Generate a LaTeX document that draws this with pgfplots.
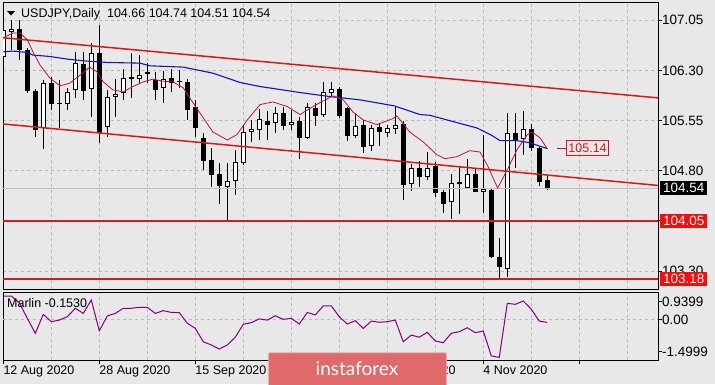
\documentclass[border=0pt]{standalone}
\usepackage{pgfplots}
\pgfplotsset{compat=1.18}
\usepackage{pgfplotstable}
\usepackage{fontspec}
\setmainfont{Liberation Sans}
\newfontfamily\logofont{Lato}

\definecolor{bg}{RGB}{232,232,232}
\definecolor{gridc}{RGB}{185,185,185}
\definecolor{chred}{RGB}{215,25,25}
\definecolor{maBlue}{RGB}{20,20,190}
\definecolor{maRed}{RGB}{185,20,60}
\definecolor{marlin}{RGB}{128,0,128}
\definecolor{logo}{RGB}{224,106,106}
\definecolor{logoedge}{RGB}{238,190,190}
\definecolor{boxred}{RGB}{250,10,10}
\definecolor{curline}{RGB}{190,190,190}

\pgfplotstableread{
i O H L C
0 106.50 107.03 106.46 106.91
1 106.88 107.06 106.61 106.92
2 106.92 107.06 106.46 106.61
3 106.61 106.64 105.97 106.00
4 106.00 106.02 105.31 105.41
5 105.44 106.16 105.13 106.11
6 106.11 106.20 105.71 105.80
7 105.80 106.16 105.44 105.81
8 105.80 106.04 105.71 105.98
9 106.01 106.58 105.89 106.41
10 106.40 106.58 105.86 106.00
11 106.03 106.71 105.61 106.56
12 106.56 106.98 105.22 105.37
13 105.46 106.01 105.31 105.91
14 105.91 106.17 105.61 105.95
15 105.97 106.32 105.86 106.19
16 106.19 106.56 105.89 106.18
17 106.17 106.53 106.11 106.23
18 106.25 106.41 106.11 106.28
19 106.16 106.28 105.86 106.01
20 106.04 106.29 105.82 106.17
21 106.19 106.32 105.98 106.11
22 106.14 106.31 106.04 106.13
23 106.13 106.17 105.56 105.71
24 105.76 105.86 105.31 105.44
25 105.29 105.37 104.81 104.95
26 104.96 105.14 104.56 104.74
27 104.75 104.92 104.30 104.57
28 104.56 104.92 104.03 104.65
29 104.65 105.11 104.44 104.93
30 104.92 105.49 104.89 105.38
31 105.38 105.56 105.23 105.43
32 105.41 105.73 105.26 105.58
33 105.55 105.70 105.26 105.49
34 105.52 105.76 105.37 105.67
35 105.67 105.76 105.41 105.47
36 105.49 105.71 105.41 105.53
37 105.55 105.61 104.98 105.29
38 105.29 105.82 105.28 105.76
39 105.74 105.82 105.47 105.62
40 105.64 106.13 105.61 105.98
41 105.97 106.13 105.91 106.03
42 106.03 106.06 105.59 105.62
43 105.74 105.76 105.25 105.32
44 105.32 105.67 105.29 105.47
45 105.49 105.56 105.07 105.16
46 105.17 105.49 105.10 105.44
47 105.46 105.52 105.17 105.38
48 105.37 105.49 105.31 105.44
49 105.43 105.76 105.35 105.49
50 105.50 105.55 104.36 104.59
51 104.60 104.90 104.50 104.84
52 104.84 104.95 104.56 104.71
53 104.71 105.08 104.66 104.84
54 104.87 104.93 104.41 104.47
55 104.48 104.51 104.17 104.30
56 104.33 104.75 104.08 104.62
57 104.63 104.86 104.15 104.60
58 104.54 104.98 104.53 104.75
59 104.75 104.84 104.48 104.48
60 104.48 105.34 104.17 104.53
61 104.51 104.54 103.50 103.51
62 103.51 103.79 103.18 103.36
63 103.33 105.67 103.21 105.37
64 105.37 105.67 104.84 105.26
65 105.28 105.70 105.04 105.43
66 105.43 105.50 105.10 105.14
67 105.14 105.16 104.57 104.63
68 104.66 104.74 104.51 104.54
}\candles

\pgfplotstableread{
i p
0 106.79
1.2 106.86
2.1 106.86
3.0 106.76
3.7 106.58
4.6 106.38
5.8 106.19
7.1 106.07
8.3 106.11
9.6 106.23
10.8 106.35
11.7 106.28
12.5 106.13
13.7 106.01
15.0 105.98
16.2 106.06
17.5 106.13
18.7 106.17
20.0 106.14
21.2 106.13
22.5 106.04
23.7 105.82
25.0 105.59
26.2 105.38
28.0 105.26
29.2 105.34
30.5 105.56
32.1 105.79
33.7 105.83
35.5 105.76
37.1 105.64
38.0 105.71
39.6 105.82
41.2 105.92
42.5 105.86
43.7 105.68
45.0 105.56
46.7 105.49
48.7 105.58
49.2 105.62
50.8 105.38
52.5 105.23
54.2 105.04
55.2 104.98
56.7 105.01
58.3 105.10
59.6 105.08
60.6 104.86
61.8 104.54
63.1 104.84
64.2 105.11
65.5 105.34
66.1 105.38
67.1 105.29
68.0 105.13
}\maRedT

\pgfplotstableread{
i p
0 106.58
1.2 106.59
3.0 106.57
3.7 106.53
5.8 106.51
8.0 106.47
10.5 106.44
13.0 106.42
17.1 106.41
18.3 106.37
22.5 106.35
26.2 106.26
29.6 106.12
32.1 106.06
37.1 105.97
40.8 105.91
44.6 105.86
48.9 105.77
52.1 105.64
53.3 105.63
56.7 105.52
59.2 105.44
60.9 105.34
62.1 105.25
64.2 105.25
65.8 105.22
68.0 105.13
}\maBlueT

\pgfplotstableread{
i v
0 1.19
1 1.19
2 0.85
3 0.06
4 -0.70
5 0.26
6 -0.11
7 -0.03
8 0.14
9 0.57
10 0.31
11 0.99
12 -0.57
13 0.18
14 0.31
15 0.57
16 0.57
17 0.62
18 0.62
19 0.31
20 0.45
21 0.36
22 0.35
23 -0.19
24 -0.45
25 -1.13
26 -1.29
27 -1.50
28 -1.29
29 -0.90
30 -0.24
31 -0.16
32 0.03
33 -0.03
34 0.19
35 0.01
36 0.06
37 -0.23
38 0.36
39 0.23
40 0.69
41 0.69
42 0.14
43 -0.23
44 -0.06
45 -0.45
46 -0.08
47 -0.14
48 -0.11
49 -0.03
50 -1.13
51 -0.79
52 -0.90
53 -0.65
54 -1.09
55 -1.18
56 -0.70
57 -0.62
58 -0.42
59 -0.67
60 -0.58
61 -1.85
62 -1.92
63 0.82
64 0.77
65 0.94
66 0.52
67 -0.08
68 -0.15
}\marlinT

\begin{document}
\begin{tikzpicture}
\fill[bg] (0,0) rectangle (715pt,-384pt);
\useasboundingbox (0,0) rectangle (715pt,-384pt);

\begin{axis}[
  at={(3pt,-2.3pt)}, anchor=north west,
  scale only axis, width=655pt, height=287pt,
  xmin=-0.0375, xmax=81.84, ymin=103.026, ymax=107.32,
  axis line style={black, line width=1pt},
  xtick={6,12,...,78}, xticklabels={}, xtick style={draw=none},
  xmajorgrids, ymajorgrids,
  grid style={gridc, dash pattern=on 3pt off 3pt, line width=0.8pt},
  ytick={103.30,104.05,104.80,105.55,106.30,107.05},
  yticklabels={103.30,,104.80,105.55,106.30,107.05},
  ytick pos=right, yticklabel pos=right,
  tick align=outside, major tick length=4pt,
  ytick style={black, line width=0.8pt},
  yticklabel style={font=\fontsize{13.5}{14}\selectfont, anchor=west, inner sep=0pt, xshift=0pt},
]
% wicks
\addplot[draw=none, forget plot, error bars/.cd, y dir=plus, y explicit, error mark=none,
  error bar style={draw=black, line width=1pt}]
  table[x=i, y=L, y error plus expr={\thisrow{H}-\thisrow{L}}] {\candles};
% bodies (outline / black)
\addplot[draw=none, forget plot, error bars/.cd, y dir=plus, y explicit, error mark=none,
  error bar style={draw=black, line width=5pt}]
  table[x=i, y expr={min(\thisrow{O},\thisrow{C})}, y error plus expr={max(abs(\thisrow{C}-\thisrow{O}),0.016)}] {\candles};
% bodies (white fill)
\addplot[draw=none, forget plot, error bars/.cd, y dir=plus, y explicit, error mark=none,
  error bar style={draw=white, line width=3pt}]
  table[x=i, y expr={\thisrow{O}+0.015}, y error plus expr={max(\thisrow{C}-\thisrow{O}-0.03,0)}] {\candles};

% current price line
\addplot[curline, line width=1pt] coordinates {(-0.0375,104.54) (81.84,104.54)};
% horizontal levels
\addplot[chred, line width=1.3pt] coordinates {(-0.0375,104.05) (81.84,104.05)};
\addplot[chred, line width=1.3pt] coordinates {(-0.0375,103.18) (81.84,103.18)};
% channel
\addplot[chred, line width=1.5pt] coordinates {(-0.0375,106.79) (81.84,105.89)};
\addplot[chred, line width=1.5pt] coordinates {(-0.0375,105.50) (81.84,104.58)};
% moving averages
\addplot[maBlue, line width=1.1pt] table[x=i, y=p] {\maBlueT};
\addplot[maRed, line width=0.8pt] table[x=i, y=p] {\maRedT};
% label leader
\addplot[chred, line width=1pt] coordinates {(69.2,105.14) (70.4,105.14)};

\coordinate (c5454) at (axis cs:81.84,104.54);
\coordinate (c0405) at (axis cs:81.84,104.05);
\coordinate (c0318) at (axis cs:81.84,103.18);
\coordinate (c0514) at (axis cs:70.4,105.14);
\end{axis}

\begin{axis}[
  at={(3pt,-292.7pt)}, anchor=north west,
  scale only axis, width=655pt, height=67.3pt,
  xmin=-0.0375, xmax=81.84, ymin=-2.056, ymax=1.36,
  axis line style={black, line width=1pt},
  xtick={0,12,...,72},
  xticklabels={12 Aug 2020,28 Aug 2020,15 Sep 2020,1 Oct 2020,19 Oct 2020,4 Nov 2020,},
  minor xtick={6,18,...,78},
  xmajorgrids, xminorgrids,
  grid style={gridc, dash pattern=on 3pt off 3pt, line width=0.8pt},
  minor grid style={gridc, dash pattern=on 3pt off 3pt, line width=0.8pt},
  xtick pos=bottom, ytick pos=right, yticklabel pos=right,
  tick align=outside, major tick length=4pt, minor tick length=0pt,
  xtick style={black, line width=0.8pt},
  ytick style={black, line width=0.8pt},
  ytick={0.90,-1.63}, yticklabels={0.9399,-1.4999},
  extra y ticks={0}, extra y tick labels={0.00},
  extra y tick style={grid=major},
  yticklabel style={font=\fontsize{13.5}{14}\selectfont, anchor=west, inner sep=0pt, xshift=0pt},
  xticklabel style={font=\fontsize{12.5}{13}\selectfont, anchor=north west, inner sep=0pt, yshift=-2pt},
]
\addplot[marlin, line width=1pt] table[x=i, y=v] {\marlinT};
\end{axis}

% right-hand price boxes
\node[fill=black, text=white, anchor=west, inner xsep=3pt, inner ysep=0pt, minimum height=14pt,
  font=\fontsize{13.5}{14}\selectfont] at ([xshift=2pt]c5454) {104.54};
\node[fill=boxred, text=white, anchor=west, inner xsep=3pt, inner ysep=0pt, minimum height=14pt,
  font=\fontsize{13.5}{14}\selectfont] at ([xshift=2pt]c0405) {104.05};
\node[fill=boxred, text=white, anchor=west, inner xsep=3pt, inner ysep=0pt, minimum height=14pt,
  font=\fontsize{13.5}{14}\selectfont] at ([xshift=2pt]c0318) {103.18};
% 105.14 label
\node[draw=chred, text=chred, anchor=west, inner xsep=1.5pt, inner ysep=0pt, minimum height=15.5pt,
  line width=0.9pt, font=\fontsize{12.5}{13}\selectfont] at (c0514) {105.14};

% header
\fill[black] (7pt,-11pt) -- (15pt,-11pt) -- (11pt,-15.5pt) -- cycle;
\node[anchor=base west, inner sep=0pt, font=\fontsize{12.5}{13}\selectfont] at (21pt,-17.3pt)
  {USDJPY,Daily\ \ 104.66 104.74 104.51 104.54};
\node[anchor=base west, inner sep=0pt, font=\fontsize{12.5}{13}\selectfont] at (7pt,-307.5pt)
  {Marlin -0.1530};

% logo
\filldraw[fill=logo, draw=logoedge, line width=0.8pt, rounded corners=1pt]
  (268.3pt,-352.7pt) rectangle (446.7pt,-386pt);
\node[text=white, anchor=base, inner sep=0pt, font=\logofont\fontsize{19}{19}\selectfont]
  at (357pt,-375pt) {instaforex};
\end{tikzpicture}
\end{document}
